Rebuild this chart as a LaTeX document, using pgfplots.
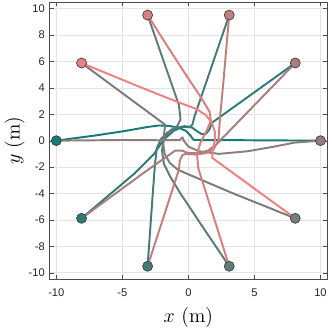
\documentclass[border=0pt]{standalone}
\usepackage{fontspec}
\setsansfont{Liberation Sans}
\usepackage{pgfplots}
\pgfplotsset{compat=1.18}

% colour ramp teal -> coral, one per agent
\definecolor{cA}{RGB}{22,122,117}
\definecolor{cB}{RGB}{240,128,128}
\colorlet{c1}{cB!0!cA}
\colorlet{c2}{cB!11!cA}
\colorlet{c3}{cB!22!cA}
\colorlet{c4}{cB!33!cA}
\colorlet{c5}{cB!44!cA}
\colorlet{c6}{cB!56!cA}
\colorlet{c7}{cB!67!cA}
\colorlet{c8}{cB!78!cA}
\colorlet{c9}{cB!89!cA}
\colorlet{c10}{cB!100!cA}

\begin{document}
\begin{tikzpicture}
\begin{axis}[
    scale only axis,
    width=7.0cm, height=7.0cm,
    xmin=-10.5, xmax=10.5,
    ymin=-10.5, ymax=10.5,
    xtick={-10,-5,0,5,10},
    ytick={-10,-8,...,10},
    tick align=inside,
    major tick length=3pt,
    grid=major,
    grid style={gray!22, line width=0.4pt},
    axis line style={black!70, line width=0.6pt},
    tick style={black!70},
    ticklabel style={font=\sffamily\footnotesize, text=black!85},
    xticklabel style={yshift=-3pt},
    /pgf/number format/assume math mode=true,
    xlabel={\Large $x$ (m)},
    ylabel={\Large $y$ (m)},
    xlabel style={yshift=-1pt},
    ylabel style={yshift=-4pt},
    every axis plot/.append style={line width=1.4pt, line join=round},
]

% agent 1  (-10,0) -> (10,0)
\addplot[c1] coordinates {(-10,0) (-7,0.4) (-5,0.7) (-3,1.05) (-2.2,1.15) (-1.5,1.12) (-0.8,1.0) (-0.2,0.75) (0.15,0.4) (0.35,0.1) (0.5,0.05) (3,0.04) (10,0)};
% agent 2  (-8.1,-5.9) -> (8.1,5.9)
\addplot[c2] coordinates {(-8.09,-5.88) (-4.1,-2.5) (-2.6,-1.0) (-1.85,0.1) (-1.1,0.75) (-0.45,1.05) (0.27,1.0) (0.6,0.75) (1.0,0.5) (1.3,0.5) (1.6,0.85) (1.77,1.35) (8.09,5.88)};
% agent 3  (-3.1,-9.5) -> (3.1,9.5)
\addplot[c3] coordinates {(-3.09,-9.51) (-2.72,-4.3) (-2.55,-2.0) (-2.4,-0.6) (-2.1,0.1) (-1.6,0.6) (-1.0,0.95) (-0.3,1.1) (0.1,1.05) (0.3,1.2) (0.45,1.8) (3.09,9.51)};
% agent 4  (3.1,-9.5) -> (-3.1,9.5)
\addplot[c4] coordinates {(3.09,-9.51) (0.9,-6.26) (-0.6,-4.0) (-1.35,-2.77) (-1.85,-1.77) (-2.0,-0.77) (-1.85,0.22) (-1.35,0.8) (-0.85,1.1) (-0.6,1.6) (-0.65,2.1) (-0.72,2.7) (-3.09,9.51)};
% agent 5  (8.1,-5.9) -> (-8.1,5.9)
\addplot[c5] coordinates {(8.09,-5.88) (3.4,-4.0) (0,-2.55) (-0.8,-2.2) (-1.4,-1.7) (-1.8,-1.0) (-1.9,-0.3) (-1.85,0.5) (-1.75,1.2) (-8.09,5.88)};
% agent 6  (10,0) -> (-10,0)
\addplot[c6] coordinates {(10,0) (8,-0.15) (6.5,-0.45) (4.5,-0.8) (2.3,-1.0) (0.8,-0.8) (0,-0.45) (-0.35,0) (-0.45,0.25) (-0.65,0.05) (-2,0.03) (-5,0.05) (-10,0)};
% agent 7  (8.1,5.9) -> (-8.1,-5.9)
\addplot[c7] coordinates {(8.09,5.88) (2.1,-0.3) (1.5,-0.75) (0.8,-0.95) (0,-0.95) (-0.5,-0.75) (-1.0,-0.75) (-1.7,-1.25) (-3.2,-2.3) (-8.09,-5.88)};
% agent 8  (3.1,9.5) -> (-3.1,-9.5)
\addplot[c8] coordinates {(3.09,9.51) (2.64,4.34) (2.4,1.85) (2.27,0) (1.9,-0.65) (1.3,-0.95) (0.5,-1.05) (-0.2,-1.0) (-0.45,-1.1) (-0.65,-1.5) (-0.72,-2.2) (-3.09,-9.51)};
% agent 9  (-3.1,9.5) -> (3.1,-9.5)
\addplot[c9] coordinates {(-3.09,9.51) (-1.47,6.96) (0.0,4.7) (1.0,3.2) (1.6,2.2) (1.7,1.5) (1.4,0.8) (0.9,-0.2) (0.65,-1.0) (0.75,-2.1) (3.09,-9.51)};
% agent 10 (-8.1,5.9) -> (8.1,-5.9)
\addplot[c10] coordinates {(-8.09,5.88) (-4,4.2) (-1.5,3.2) (-0.2,2.7) (0.6,2.4) (1.3,1.95) (1.75,1.4) (2.0,0.7) (2.0,0) (1.85,-0.7) (1.8,-1.3) (8.09,-5.88)};

% start markers
\addplot[only marks, mark=*, mark size=3.6pt, mark options={fill=c1, draw=black!75, line width=0.5pt}] coordinates {(-10,0)};
\addplot[only marks, mark=*, mark size=3.6pt, mark options={fill=c2, draw=black!75, line width=0.5pt}] coordinates {(-8.09,-5.88)};
\addplot[only marks, mark=*, mark size=3.6pt, mark options={fill=c3, draw=black!75, line width=0.5pt}] coordinates {(-3.09,-9.51)};
\addplot[only marks, mark=*, mark size=3.6pt, mark options={fill=c4, draw=black!75, line width=0.5pt}] coordinates {(3.09,-9.51)};
\addplot[only marks, mark=*, mark size=3.6pt, mark options={fill=c5, draw=black!75, line width=0.5pt}] coordinates {(8.09,-5.88)};
\addplot[only marks, mark=*, mark size=3.6pt, mark options={fill=c6, draw=black!75, line width=0.5pt}] coordinates {(10,0)};
\addplot[only marks, mark=*, mark size=3.6pt, mark options={fill=c7, draw=black!75, line width=0.5pt}] coordinates {(8.09,5.88)};
\addplot[only marks, mark=*, mark size=3.6pt, mark options={fill=c8, draw=black!75, line width=0.5pt}] coordinates {(3.09,9.51)};
\addplot[only marks, mark=*, mark size=3.6pt, mark options={fill=c9, draw=black!75, line width=0.5pt}] coordinates {(-3.09,9.51)};
\addplot[only marks, mark=*, mark size=3.6pt, mark options={fill=c10, draw=black!75, line width=0.5pt}] coordinates {(-8.09,5.88)};

\end{axis}
\end{tikzpicture}
\end{document}
